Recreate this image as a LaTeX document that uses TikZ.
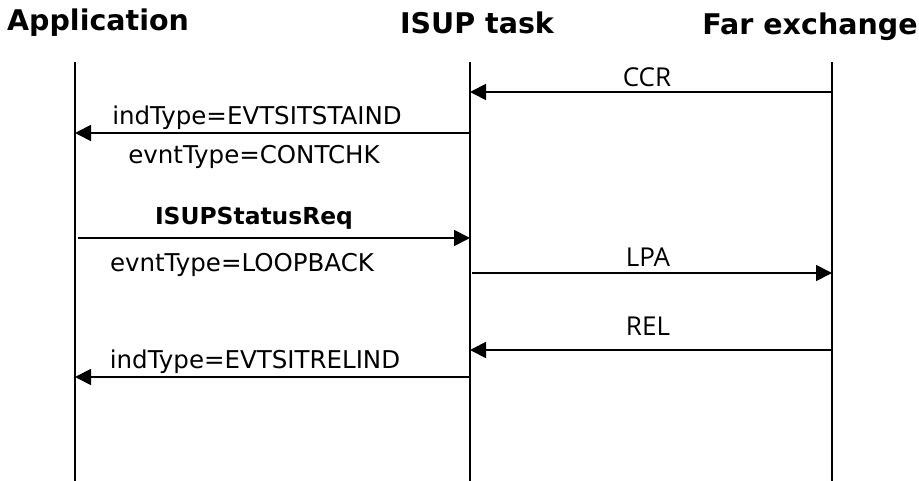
\documentclass[tikz,border=0pt]{standalone}
\usepackage{fontspec}
\setmainfont{DejaVu Sans}
\newfontfamily\msgfont{Open Sans}
\usetikzlibrary{arrows.meta}
\tikzset{
  lifeline/.style={line width=1.5pt},
  msg/.style={line width=1.8pt,-{Triangle[length=16pt,width=16pt]}},
  head/.style={font=\bfseries\fontsize{28.5}{32}\selectfont,inner sep=0pt},
  lbl/.style={font=\fontsize{24.5}{28}\selectfont,inner sep=0pt},
  blbl/.style={font=\bfseries\fontsize{23.4}{28}\selectfont,inner sep=0pt},
  plbl/.style={font=\msgfont\fontsize{26}{30}\selectfont,inner sep=0pt}
}
\begin{document}
\begin{tikzpicture}[x=1pt,y=-1pt]
\useasboundingbox (0,0) rectangle (919,481);
% participants
\node[head] (app) at (98,23) {Application};
\node[head] (isup) at (477,23) {ISUP task};
\node[head] (far) at (810,27) {Far exchange};
% lifelines
\coordinate (appT) at (75,62);   \coordinate (appB) at (75,481);
\coordinate (isupT) at (470,62); \coordinate (isupB) at (470,481);
\coordinate (farT) at (832,62);  \coordinate (farB) at (832,481);
\draw[lifeline] (appT) -- (appB);
\draw[lifeline] (isupT) -- (isupB);
\draw[lifeline] (farT) -- (farB);
% message anchor points on the lifelines
\foreach \n/\y in {1/92,2/133,3/238,4/273,5/350,6/377}{
  \coordinate (a\n) at (75,\y);
  \coordinate (i\n) at (470,\y);
  \coordinate (f\n) at (832,\y);
}
% messages
\draw[msg] (f1) -- (i1);
\node[plbl] (ccr) at (647,77) {CCR};
\draw[msg] (i2) -- (a2);
\node[lbl] (ind1) at (257,118) {indType=EVTSITSTAIND};
\node[lbl] (evt1) at (254,157) {evntType=CONTCHK};
\draw[msg] ([xshift=3pt]a3) -- (i3);
\node[blbl] (req) at (254,218) {ISUPStatusReq};
\node[lbl] (evt2) at (242,265) {evntType=LOOPBACK};
\draw[msg] ([xshift=2pt]i4) -- (f4);
\node[plbl] (lpa) at (648,257) {LPA};
\draw[msg] (f5) -- (i5);
\node[plbl] (rel) at (648,326) {REL};
\draw[msg] (i6) -- (a6);
\node[lbl] (ind2) at (255,362) {indType=EVTSITRELIND};
\end{tikzpicture}
\end{document}
